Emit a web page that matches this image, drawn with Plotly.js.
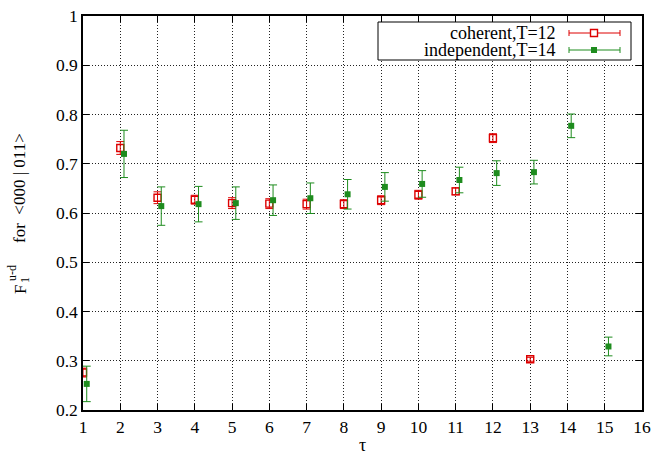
<!DOCTYPE html>
<html>
<head>
<meta charset="utf-8">
<script src="https://cdn.plot.ly/plotly-3.0.1.min.js"></script>
<style>html,body{margin:0;padding:0;background:#fff;}#chart{width:653px;height:459px;}</style>
</head>
<body>
<div id="chart"></div>
<script>
// ---- data ----
const tauCoherent = [1, 2, 3, 4, 5, 6, 7, 8, 9, 10, 11, 12, 13];
const coherentVals = [0.276, 0.732, 0.631, 0.627, 0.620, 0.619, 0.618, 0.618, 0.626, 0.637, 0.644, 0.752, 0.303];
const coherentErr  = [0.009, 0.013, 0.012, 0.009, 0.011, 0.010, 0.010, 0.009, 0.009, 0.009, 0.007, 0.009, 0.004];

const tauIndependent = [1, 2, 3, 4, 5, 6, 7, 8, 9, 10, 11, 12, 13, 14, 15];
const independentVals = [0.253, 0.720, 0.614, 0.618, 0.620, 0.626, 0.630, 0.638, 0.653, 0.659, 0.667, 0.681, 0.683, 0.777, 0.329];
const independentErr  = [0.036, 0.048, 0.039, 0.036, 0.033, 0.031, 0.031, 0.030, 0.029, 0.027, 0.026, 0.025, 0.024, 0.024, 0.019];

const seriesNames = ['coherent,T=12', 'independent,T=14'];
const xTicks = [1, 2, 3, 4, 5, 6, 7, 8, 9, 10, 11, 12, 13, 14, 15, 16];
const yTicks = [0.2, 0.3, 0.4, 0.5, 0.6, 0.7, 0.8, 0.9, 1];
const yTickLabels = ['0.2', '0.3', '0.4', '0.5', '0.6', '0.7', '0.8', '0.9', '1'];

// ---- style ----
const RED = '#dd0000';
const GREEN = '#1e8c1e';
const FONT = 'Liberation Serif';
const offsetIndependent = 0.1;

const W = 653, H = 459;
const M = {l: 83, r: 11, t: 16, b: 49};
const PW = W - M.l - M.r, PH = H - M.t - M.b;
const px = v => (v - M.l) / PW;           // pixel x -> paper
const py = v => (H - M.b - v) / PH;        // pixel y -> paper

const traces = [
  {
    x: tauCoherent, y: coherentVals, type: 'scatter', mode: 'markers', name: seriesNames[0],
    marker: {symbol: 'square-open', size: 7, color: RED, line: {width: 1.4, color: RED}},
    error_y: {type: 'data', array: coherentErr, visible: true, color: RED, thickness: 1, width: 4},
    showlegend: false
  },
  {
    x: tauIndependent.map(t => t + offsetIndependent), y: independentVals, type: 'scatter', mode: 'markers', name: seriesNames[1],
    marker: {symbol: 'square', size: 6, color: GREEN},
    error_y: {type: 'data', array: independentErr, visible: true, color: GREEN, thickness: 1, width: 4},
    showlegend: false
  }
];

const axisCommon = {
  showline: true, linecolor: '#000', linewidth: 1.5, mirror: 'allticks',
  ticks: 'inside', ticklen: 6, tickwidth: 1, tickcolor: '#000',
  showgrid: true, gridcolor: '#222', griddash: '1px,2px', gridwidth: 1,
  zeroline: false, tickfont: {family: FONT, size: 17.5, color: '#000'}
};

// legend drawn as shapes + text
const legY = [33, 50];
const legColors = [RED, GREEN];
const shapes = [
  {type: 'rect', xref: 'paper', yref: 'paper', x0: px(378), x1: px(631), y0: py(22), y1: py(60),
   line: {color: '#000', width: 1}, fillcolor: '#fff', layer: 'above'}
];
const annotations = [];
legY.forEach((yy, i) => {
  const c = legColors[i];
  shapes.push({type: 'line', xref: 'paper', yref: 'paper', x0: px(569), x1: px(620), y0: py(yy), y1: py(yy), line: {color: c, width: 1}, layer: 'above'});
  shapes.push({type: 'line', xref: 'paper', yref: 'paper', x0: px(569), x1: px(569), y0: py(yy - 3), y1: py(yy + 3), line: {color: c, width: 1}, layer: 'above'});
  shapes.push({type: 'line', xref: 'paper', yref: 'paper', x0: px(620), x1: px(620), y0: py(yy - 3), y1: py(yy + 3), line: {color: c, width: 1}, layer: 'above'});
  if (i === 0) {
    shapes.push({type: 'rect', xref: 'paper', yref: 'paper', x0: px(590.5), x1: px(597.5), y0: py(yy - 3.5), y1: py(yy + 3.5), line: {color: c, width: 1.4}, fillcolor: '#fff', layer: 'above'});
  } else {
    shapes.push({type: 'rect', xref: 'paper', yref: 'paper', x0: px(591), x1: px(597), y0: py(yy - 3), y1: py(yy + 3), line: {color: c, width: 0}, fillcolor: c, layer: 'above'});
  }
  annotations.push({xref: 'paper', yref: 'paper', x: px(557), y: py(yy), xanchor: 'right', yanchor: 'middle',
    text: seriesNames[i], showarrow: false, font: {family: FONT, size: 18, color: '#000'}, borderpad: 0});
});

// y-axis label pieces (rotated)
annotations.push({xref: 'paper', yref: 'paper', x: px(19), y: py(188), xanchor: 'center', yanchor: 'middle', textangle: -90,
  text: 'for  &lt;000 | 011&gt;', showarrow: false, font: {family: FONT, size: 17, color: '#000'}});
annotations.push({xref: 'paper', yref: 'paper', x: px(20), y: py(290), xanchor: 'center', yanchor: 'middle', textangle: -90,
  text: 'F', showarrow: false, font: {family: FONT, size: 17, color: '#000'}});
annotations.push({xref: 'paper', yref: 'paper', x: px(12), y: py(273), xanchor: 'center', yanchor: 'middle', textangle: -90,
  text: 'u-d', showarrow: false, font: {family: FONT, size: 12, color: '#000'}});
annotations.push({xref: 'paper', yref: 'paper', x: px(25), y: py(280), xanchor: 'center', yanchor: 'middle', textangle: -90,
  text: '1', showarrow: false, font: {family: FONT, size: 12, color: '#000'}});
// x-axis label
annotations.push({xref: 'paper', yref: 'paper', x: 0.5, y: py(445), xanchor: 'center', yanchor: 'middle',
  text: 'τ', showarrow: false, font: {family: FONT, size: 18, color: '#000'}});

const layout = {
  width: W, height: H,
  margin: M,
  paper_bgcolor: '#fff', plot_bgcolor: '#fff',
  showlegend: false,
  font: {family: FONT, color: '#000'},
  xaxis: Object.assign({}, axisCommon, {
    range: [1, 16], tickvals: xTicks, ticktext: xTicks.map(String)
  }),
  yaxis: Object.assign({}, axisCommon, {
    range: [0.2, 1], tickvals: yTicks, ticktext: yTickLabels
  }),
  shapes: shapes,
  annotations: annotations
};

Plotly.newPlot('chart', traces, layout, {displayModeBar: false});
</script>
</body>
</html>
